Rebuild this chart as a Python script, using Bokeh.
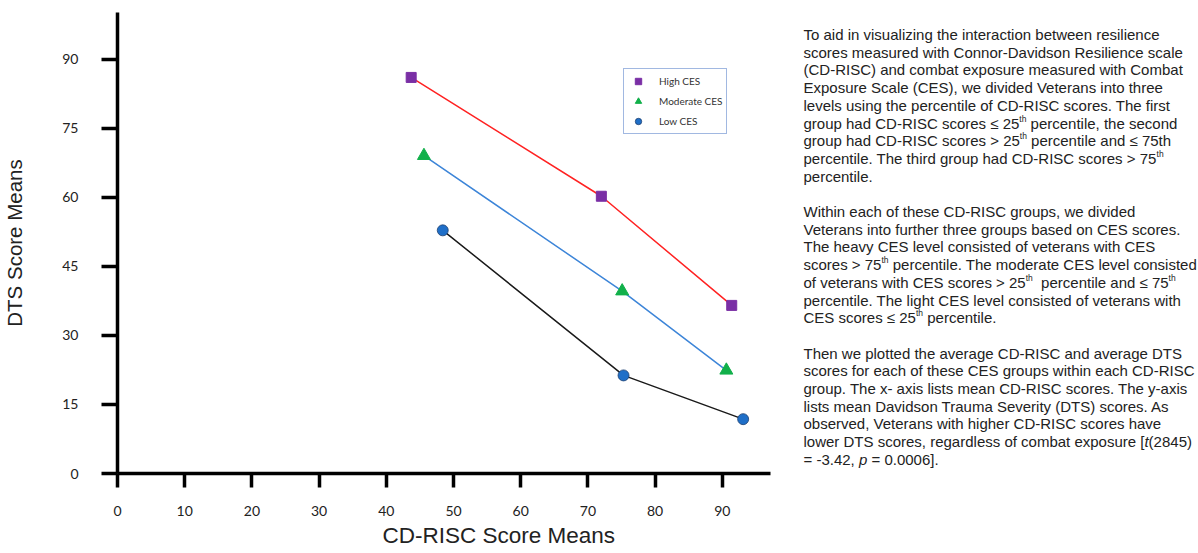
import re
from bokeh.plotting import figure
from bokeh.models import Range1d, FixedTicker, Legend, LegendItem, Title, ColumnDataSource
from bokeh.layouts import row
from bokeh.core.properties import value
from bokeh.embed import file_html
from bokeh.resources import INLINE

# ---------------- data ----------------
high_x = [43.7, 72.0, 91.4]
high_y = [86.0, 60.2, 36.5]
mod_x = [45.6, 75.1, 90.6]
mod_y = [69.0, 39.6, 22.4]
low_x = [48.4, 75.3, 93.1]
low_y = [52.8, 21.3, 11.8]

x_ticks = [0, 10, 20, 30, 40, 50, 60, 70, 80, 90]
y_ticks = [0, 15, 30, 45, 60, 75, 90]

series_names = ["High CES", "Moderate CES", "Low CES"]
x_title = "CD-RISC Score Means"
y_title = "DTS Score Means"

# ^{..} = superscript, *..* = italic
text_lines = [
    "To aid in visualizing the interaction between resilience",
    "scores measured with Connor-Davidson Resilience scale",
    "(CD-RISC) and combat exposure measured with Combat",
    "Exposure Scale (CES), we divided Veterans into three",
    "levels using the percentile of CD-RISC scores. The first",
    "group had CD-RISC scores \u2264 25^{th} percentile, the second",
    "group had CD-RISC scores > 25^{th} percentile and \u2264 75th",
    "percentile. The third group had CD-RISC scores > 75^{th}",
    "percentile.",
    "",
    "Within each of these CD-RISC groups, we divided",
    "Veterans into further three groups based on CES scores.",
    "The heavy CES level consisted of veterans with CES",
    "scores > 75^{th} percentile. The moderate CES level consisted",
    "of veterans with CES scores > 25^{th}  percentile and \u2264 75^{th}",
    "percentile. The light CES level consisted of veterans with",
    "CES scores \u2264 25^{th} percentile.",
    "",
    "Then we plotted the average CD-RISC and average DTS",
    "scores for each of these CES groups within each CD-RISC",
    "group. The x- axis lists mean CD-RISC scores. The y-axis",
    "lists mean Davidson Trauma Severity (DTS) scores. As",
    "observed, Veterans with higher CD-RISC scores have",
    "lower DTS scores, regardless of combat exposure [*t*(2845)",
    "= -3.42, *p* = 0.0006].",
]

# ---------------- main chart ----------------
W1, H = 788, 553
p = figure(width=W1, height=H, x_range=Range1d(0, 97.17), y_range=Range1d(0, 100.1),
           output_backend="svg", toolbar_location=None,
           min_border_left=117, min_border_right=18, min_border_top=12, min_border_bottom=80)
p.outline_line_color = None
p.grid.visible = False
p.background_fill_color = "white"

for ax, ticks in ((p.xaxis, x_ticks), (p.yaxis, y_ticks)):
    ax.ticker = FixedTicker(ticks=ticks)
    ax.axis_line_color = "black"
    ax.axis_line_width = 3.5
    ax.minor_tick_line_color = None
    ax.major_tick_line_color = "black"
    ax.major_tick_line_width = 3.5
    ax.major_tick_in = 0
    ax.major_label_text_font = "Lato"
    ax.major_label_text_font_size = "14px"
    ax.major_label_text_color = "#222222"

p.xaxis.major_tick_out = 14
p.xaxis.major_label_standoff = 18
p.yaxis.major_tick_out = 16
p.yaxis.major_label_standoff = 23
p.yaxis.axis_label = y_title
p.yaxis.axis_label_text_font = "Liberation Sans"
p.yaxis.axis_label_text_font_style = "normal"
p.yaxis.axis_label_text_font_size = "20.5px"
p.yaxis.axis_label_text_color = "#222222"
p.yaxis.axis_label_standoff = 33

p.add_layout(Title(text=x_title, align="left", offset=265, standoff=4,
                   text_font="Liberation Sans", text_font_size="22.5px",
                   text_font_style="normal", text_color="#222222"), "below")

p.line(high_x, high_y, line_color="#ff2222", line_width=1.5)
p.line(mod_x, mod_y, line_color="#3d85d8", line_width=1.5)
p.line(low_x, low_y, line_color="#1a1a1a", line_width=1.5)

r_h = p.scatter(high_x, high_y, marker="square", size=10, fill_color="#7a2fa5", line_color="#7a2fa5")
r_m = p.scatter(mod_x, mod_y, marker="triangle", size=13, fill_color="#11b04a", line_color="#11b04a")
r_l = p.scatter(low_x, low_y, marker="circle", size=11, fill_color="#1f6fc8", line_color="#1c3f70", line_width=0.8)

legend = Legend(items=[LegendItem(label=series_names[0], renderers=[r_h]),
                       LegendItem(label=series_names[1], renderers=[r_m]),
                       LegendItem(label=series_names[2], renderers=[r_l])],
                location=(506, 339), margin=0, padding=4, spacing=4,
                glyph_width=20, glyph_height=16, label_height=16, label_standoff=11,
                label_text_font="Lato", label_text_font_size="10px", label_text_color="#333333",
                border_line_color="#4472c4", border_line_width=1.5, background_fill_color="white",
                background_fill_alpha=1.0)
p.add_layout(legend)

# ---------------- text panel ----------------
W2 = 1198 - W1
p2 = figure(width=W2, height=H, x_range=Range1d(0, W2), y_range=Range1d(473, 12),
            output_backend="svg", toolbar_location=None,
            min_border_left=0, min_border_right=0, min_border_top=12, min_border_bottom=80)
p2.axis.visible = False
p2.grid.visible = False
p2.outline_line_color = None

FS = 15.0
SUP_FS = 8.5
ARIAL = {' ': 278, '(': 333, ')': 333, ',': 278, '-': 333, '.': 278, '=': 584, '>': 584,
         '[': 278, ']': 278, '\u2264': 549,
         'A': 667, 'B': 667, 'C': 722, 'D': 722, 'E': 667, 'F': 611, 'G': 778, 'H': 722, 'I': 278,
         'J': 500, 'K': 667, 'L': 556, 'M': 833, 'N': 722, 'O': 778, 'P': 667, 'Q': 778, 'R': 722,
         'S': 667, 'T': 611, 'U': 722, 'V': 667, 'W': 944, 'X': 667, 'Y': 667, 'Z': 611,
         'a': 556, 'b': 556, 'c': 500, 'd': 556, 'e': 556, 'f': 278, 'g': 556, 'h': 556, 'i': 222,
         'j': 222, 'k': 500, 'l': 222, 'm': 833, 'n': 556, 'o': 556, 'p': 556, 'q': 556, 'r': 333,
         's': 500, 't': 278, 'u': 556, 'v': 500, 'w': 722, 'x': 500, 'y': 500, 'z': 500}


def tw(s, fs):
    return sum(ARIAL.get(c, 556) for c in s) * fs / 1000.0


norm = dict(x=[], y=[], t=[])
ital = dict(x=[], y=[], t=[])
sup = dict(x=[], y=[], t=[])
X0, Y0, LH = 15, 34, 17.7
for i, line in enumerate(text_lines):
    ly = Y0 + i * LH
    cx = X0
    for tok in re.split(r"(\^\{[^}]*\}|\*[^*]+\*)", line):
        if not tok:
            continue
        if tok.startswith("^{"):
            s, d, fs, yy = tok[2:-1], sup, SUP_FS, ly - 4.5
        elif tok.startswith("*"):
            s, d, fs, yy = tok[1:-1], ital, FS, ly
        else:
            s, d, fs, yy = tok, norm, FS, ly
        lead = len(s) - len(s.lstrip(" "))
        cx += tw(" " * lead, fs)
        s = s.lstrip(" ")
        if s:
            d["x"].append(cx)
            d["y"].append(yy)
            d["t"].append(s)
        cx += tw(s, fs)

for d, st, fs in ((norm, "normal", FS), (ital, "italic", FS), (sup, "normal", SUP_FS)):
    p2.text(x="x", y="y", text="t", source=ColumnDataSource(d),
            text_font=value("Liberation Sans"), text_font_size=f"{fs}px", text_font_style=st,
            text_color="#222222", text_align="left", text_baseline="middle")

layout = row(p, p2)
open("out.html", "w").write(file_html(layout, INLINE))
